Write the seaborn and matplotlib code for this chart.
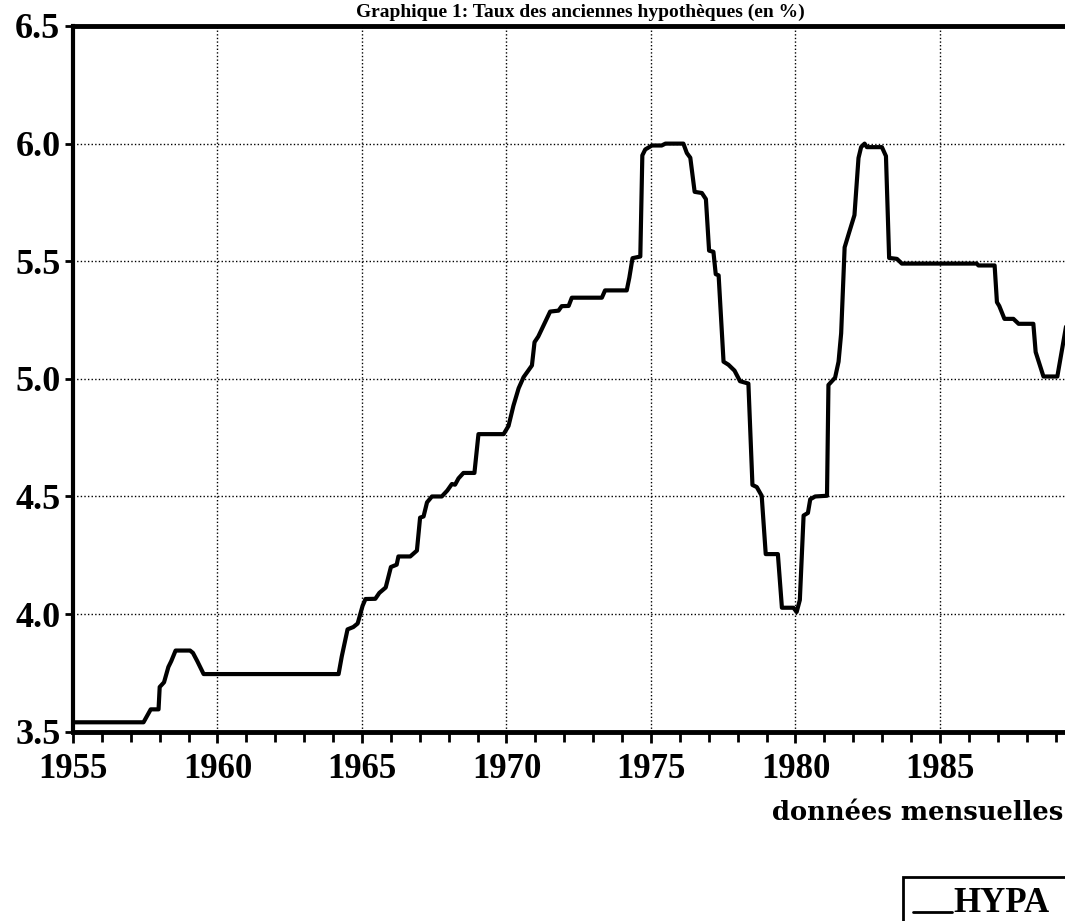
import matplotlib
matplotlib.use("Agg")
import matplotlib.pyplot as plt
import numpy as np
import pandas as pd
import seaborn as sns
from matplotlib.patches import Rectangle
from matplotlib.ticker import MultipleLocator, FixedLocator

# ---- data (monthly series, vertices of the line) ----
years = [
    1955.00, 1957.44, 1957.69, 1957.96, 1958.00, 1958.15, 1958.30, 1958.40, 1958.55,
    1959.05, 1959.15, 1959.30, 1959.52, 1964.19, 1964.30, 1964.50, 1964.70, 1964.85,
    1965.02, 1965.12, 1965.46, 1965.60, 1965.82, 1966.00, 1966.20, 1966.26, 1966.67,
    1966.90, 1967.01, 1967.13, 1967.25, 1967.42, 1967.76, 1967.95, 1968.11, 1968.22,
    1968.34, 1968.51, 1968.89, 1969.03, 1969.90, 1970.07, 1970.24, 1970.42, 1970.59,
    1970.88, 1970.97, 1971.10, 1971.51, 1971.80, 1971.91, 1972.15, 1972.26, 1973.30,
    1973.41, 1974.16, 1974.25, 1974.36, 1974.63, 1974.70, 1974.80, 1975.03, 1975.37,
    1975.50, 1976.12, 1976.24, 1976.36, 1976.51, 1976.76, 1976.90, 1977.01, 1977.16,
    1977.24, 1977.34, 1977.51, 1977.68, 1977.89, 1978.08, 1978.37, 1978.51, 1978.66,
    1978.83, 1978.97, 1979.39, 1979.53, 1979.93, 1980.04, 1980.15, 1980.28, 1980.43,
    1980.51, 1980.68, 1981.09, 1981.14, 1981.37, 1981.49, 1981.58, 1981.70, 1981.85,
    1982.04, 1982.18, 1982.27, 1982.39, 1982.47, 1982.99, 1983.13, 1983.24, 1983.51,
    1983.68, 1986.27, 1986.33, 1986.89, 1986.97, 1987.05, 1987.23, 1987.54, 1987.72,
    1988.23, 1988.31, 1988.58, 1989.06, 1989.40,
]
hypa = [
    3.540, 3.540, 3.595, 3.595, 3.690, 3.710, 3.775, 3.800, 3.845,
    3.845, 3.835, 3.800, 3.745, 3.745, 3.820, 3.935, 3.945, 3.960,
    4.035, 4.064, 4.065, 4.090, 4.113, 4.200, 4.210, 4.245, 4.245,
    4.270, 4.410, 4.415, 4.475, 4.500, 4.500, 4.525, 4.553, 4.550,
    4.577, 4.600, 4.600, 4.765, 4.765, 4.800, 4.886, 4.960, 5.007,
    5.057, 5.156, 5.180, 5.286, 5.290, 5.309, 5.310, 5.345, 5.345,
    5.376, 5.376, 5.430, 5.513, 5.520, 5.950, 5.975, 5.992, 5.992,
    6.000, 6.000, 5.960, 5.940, 5.795, 5.790, 5.764, 5.545, 5.540,
    5.445, 5.440, 5.073, 5.060, 5.035, 4.990, 4.980, 4.549, 4.540,
    4.503, 4.255, 4.255, 4.027, 4.027, 4.009, 4.060, 4.419, 4.430,
    4.488, 4.500, 4.503, 4.974, 5.005, 5.073, 5.194, 5.559, 5.620,
    5.696, 5.939, 5.985, 6.000, 5.985, 5.985, 5.947, 5.514, 5.510,
    5.490, 5.490, 5.482, 5.482, 5.326, 5.310, 5.255, 5.255, 5.234,
    5.234, 5.114, 5.010, 5.010, 5.250,
]
series_name = "HYPA"
ytick_values = [3.5, 4.0, 4.5, 5.0, 5.5, 6.0, 6.5]
ytick_labels = ["3.5", "4.0", "4.5", "5.0", "5.5", "6.0", "6.5"]
xtick_years = [1955, 1960, 1965, 1970, 1975, 1980, 1985]
x_caption = "données mensuelles"
title_text = "Graphique 1: Taux des anciennes hypothèques (en %)"

# ---- styling ----
sns.set_theme(style="white")
plt.rcParams["font.family"] = ["Liberation Serif", "DejaVu Serif"]
plt.rcParams["text.color"] = "black"

W, H = 1065, 921
fig = plt.figure(figsize=(W / 100, H / 100), dpi=100)
fig.patch.set_facecolor("white")

x0_px, y_top_px, y_bot_px = 73.0, 26.0, 731.7
px_per_year = 28.9
ax = fig.add_axes([x0_px / W, 1 - y_bot_px / H, (W - x0_px) / W, (y_bot_px - y_top_px) / H])

df = pd.DataFrame({"year": years, "value": hypa, "serie": series_name})
sns.lineplot(data=df, x="year", y="value", hue="serie", palette=["black"],
             sort=False, estimator=None, linewidth=3.0, ax=ax)

ax.set_xlim(1955, 1955 + (W - x0_px) / px_per_year)
ax.set_ylim(3.5, 6.5)
ax.set_xlabel("")
ax.set_ylabel("")

ax.xaxis.set_major_locator(FixedLocator(xtick_years))
ax.xaxis.set_minor_locator(MultipleLocator(1))
ax.set_xticks(xtick_years)
ax.set_xticklabels([str(y) for y in xtick_years])
ax.set_yticks(ytick_values)
ax.set_yticklabels(ytick_labels)

for lab in ax.get_xticklabels():
    lab.set_fontweight("bold")
    lab.set_fontsize(25)
    lab.set_color("black")
for lab in ax.get_yticklabels():
    lab.set_fontweight("bold")
    lab.set_fontsize(26)
    lab.set_color("black")

ax.tick_params(axis="x", which="major", direction="out", length=8, width=2,
               pad=7, colors="black", bottom=True)
ax.tick_params(axis="x", which="minor", direction="out", length=7, width=2,
               colors="black", bottom=True)
ax.tick_params(axis="y", which="major", direction="out", length=6, width=2,
               pad=3, colors="black", left=True)

ax.grid(True, which="major", color="black", linestyle=(0, (1, 1.6)), linewidth=1.0)
ax.set_axisbelow(True)

for side in ["left", "bottom", "top"]:
    ax.spines[side].set_visible(True)
    ax.spines[side].set_color("black")
ax.spines["left"].set_linewidth(3.0)
ax.spines["bottom"].set_linewidth(3.5)
ax.spines["top"].set_linewidth(3.5)
ax.spines["right"].set_visible(False)

# legend: entry from the seaborn line, box running off the figure edge
handles, labels = ax.get_legend_handles_labels()
if ax.get_legend() is not None:
    ax.get_legend().remove()
leg = fig.legend(handles, [series_name], loc="upper left",
                 bbox_to_anchor=(903 / W, 1 - 877 / H), borderaxespad=0,
                 frameon=False,
                 handlelength=1.1, handletextpad=0.05, borderpad=0.3,
                 prop={"family": "Liberation Serif", "weight": "bold", "size": 25})
for txt in leg.get_texts():
    txt.set_color("black")
for line in leg.get_lines():
    line.set_linewidth(2.0)
    xd = np.asarray(line.get_xdata(), dtype=float)
    line.set_ydata(np.full_like(xd, 0.5))
fig.patches.append(Rectangle((903 / W, 1 - 980 / H), 220 / W, 103 / H,
                             transform=fig.transFigure, fill=False,
                             edgecolor="black", linewidth=2.0))

# caption under the x axis
fig.text(1063 / W, 1 - 812 / H, x_caption, ha="right", va="center",
         family="DejaVu Serif", fontweight="bold", fontsize=18.5, color="black")

# title in the thin band above the frame
fig.text(0.545, 1 - 17 / H, title_text, ha="center", va="baseline",
         fontweight="bold", fontsize=14, color="black")

fig.savefig("out.png", dpi=100, facecolor="white")
